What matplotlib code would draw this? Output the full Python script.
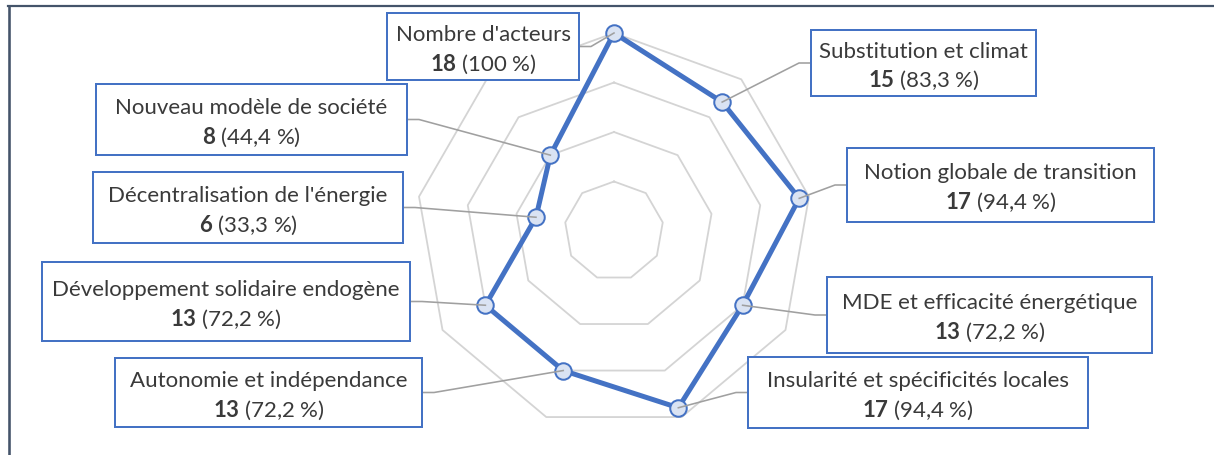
import numpy as np
import matplotlib
matplotlib.use("Agg")
import matplotlib.pyplot as plt
from matplotlib.patches import Rectangle
from matplotlib.lines import Line2D

# ---------------- data ----------------
categories = ["Nombre d'acteurs", "Substitution et climat", "Notion globale de transition",
              "MDE et efficacité énergétique", "Insularité et spécificités locales",
              "Autonomie et indépendance", "Développement solidaire endogène",
              "Décentralisation de l'énergie", "Nouveau modèle de société"]
counts = [18, 15, 17, 13, 17, 13, 13, 6, 8]
percents = ["100", "83,3", "94,4", "72,2", "94,4", "72,2", "72,2", "33,3", "44,4"]
ring_levels = [3, 8, 13, 18]
r_min, r_max = -2, 18

# ---------------- layout (pixels, from top-left) ----------------
W, H = 1214, 456
center_px = (614, 232)
radius_px = 198
# box: left, top, right, bottom ; side of leader
boxes = [
    (387, 14, 579, 81, "right"),
    (811, 31, 1036, 97, "left"),
    (847, 149, 1154, 223, "left"),
    (827, 278, 1152, 354, "left"),
    (748, 358, 1088, 429, "left"),
    (115, 359, 422, 428, "right"),
    (42, 263, 410, 342, "right"),
    (93, 173, 403, 244, "right"),
    (96, 85, 407, 156, "right"),
]

BLUE = "#4472C4"
FACE = "#DAE3F3"
RING = "#D4D4D4"
LEAD = "#A0A0A0"
TXT = "#3A3A3A"
FRAME = "#44546A"
PX = 72 / 100  # points per pixel
FS = 16

plt.rcParams["font.family"] = ["Lato", "DejaVu Sans"]
plt.rcParams["mathtext.fontset"] = "custom"
plt.rcParams["mathtext.rm"] = "Lato"
plt.rcParams["mathtext.bf"] = "Lato:bold"

fig = plt.figure(figsize=(W / 100, H / 100), dpi=100)
fig.patch.set_facecolor("white")

# polar axes
cx, cy = center_px
pax = fig.add_axes([(cx - radius_px) / W, (H - cy - radius_px) / H,
                    2 * radius_px / W, 2 * radius_px / H], projection="polar")
pax.set_theta_zero_location("N")
pax.set_theta_direction(-1)
pax.set_ylim(r_min, r_max)
pax.grid(False)
pax.set_xticks([])
pax.set_yticks([])
pax.spines["polar"].set_visible(False)
pax.patch.set_alpha(0)

n = len(categories)
theta = np.arange(n) * 2 * np.pi / n
theta_c = np.append(theta, theta[0])

for lvl in ring_levels:
    pax.plot(theta_c, [lvl] * (n + 1), color=RING, lw=1.8 * PX, clip_on=False, zorder=1)

vals_c = np.append(counts, counts[0])
pax.plot(theta_c, vals_c, color=BLUE, lw=5 * PX, clip_on=False, zorder=3,
         solid_joinstyle="miter")
pax.plot(theta, counts, ls="none", marker="o", markersize=16.5 * PX,
         markerfacecolor=FACE, markeredgecolor=BLUE, markeredgewidth=2 * PX,
         clip_on=False, zorder=4)

# overlay axes in pixel coordinates
ov = fig.add_axes([0, 0, 1, 1])
ov.set_xlim(0, W)
ov.set_ylim(H, 0)
ov.axis("off")

# frame lines
ov.add_line(Line2D([8.8, 8.8], [6.5, H], color=FRAME, lw=2.6 * PX))
ov.add_line(Line2D([7.5, W], [6.5, 6.5], color=FRAME, lw=2.2 * PX))

to_ov = ov.transData.inverted()
for i, (cat, c, p, b) in enumerate(zip(categories, counts, percents, boxes)):
    l, t, r, btm, side = b
    mid = (t + btm) / 2
    # marker position via polar transform
    disp = pax.transData.transform((theta[i], c))
    mx, my = to_ov.transform(disp)
    if side == "right":
        ex = r + 12
        lx = r
    else:
        ex = l - 12
        lx = l
    ov.add_line(Line2D([mx, ex, lx], [my, mid, mid], color=LEAD, lw=1.6 * PX, zorder=5))
    ov.add_patch(Rectangle((l, t), r - l, btm - t, facecolor="white",
                           edgecolor=BLUE, lw=2 * PX, zorder=6))
    xc = (l + r) / 2
    ov.text(xc, mid - 6.5, cat, ha="center", va="baseline", color=TXT,
            fontsize=FS, zorder=7)
    ov.text(xc, mid + 23, r"$\mathbf{%d}$ (%s %%)" % (c, p), ha="center",
            va="baseline", color=TXT, fontsize=FS, zorder=7)

fig.savefig("out.png", dpi=100)
